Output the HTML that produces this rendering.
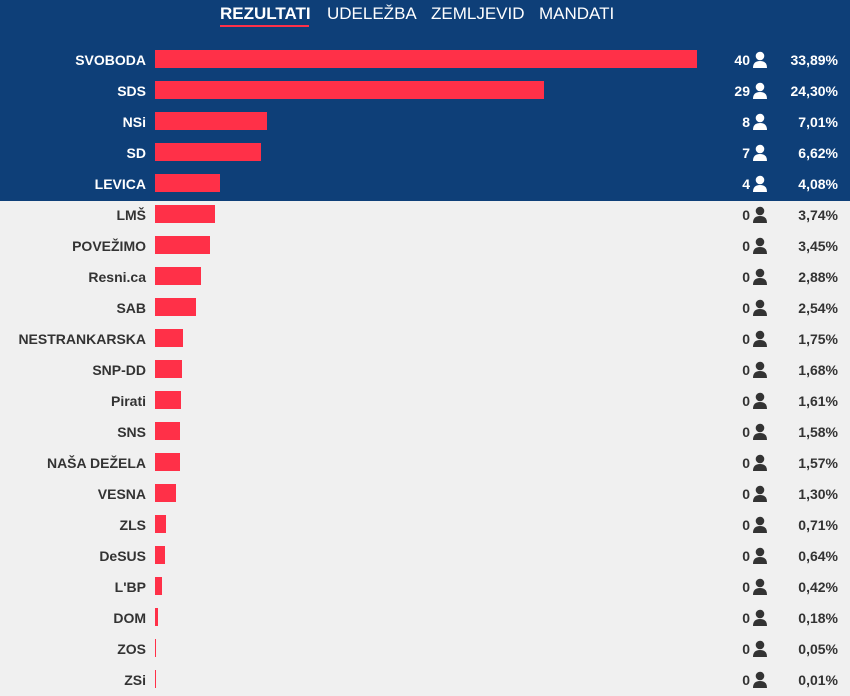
<!DOCTYPE html><html><head><meta charset="utf-8"><style>
body{margin:0;width:850px;height:694px;background:#f0f0f0;font-family:"Liberation Sans",sans-serif;overflow:hidden;position:relative}
.top{position:absolute;left:0;top:0;width:850px;height:201px;background:#0e3f78}
.tab{position:absolute;top:4px;color:#fff;font-size:17px}
.r{position:absolute;left:0;width:850px;height:31px;font-weight:bold;font-size:14px;color:#333}
.r.d{color:#fff}
.l{position:absolute;right:704px;top:7px;white-space:nowrap}
.b{position:absolute;left:155px;top:5px;height:18px;background:#ff3048}
.s{position:absolute;right:100px;top:7px}
.i{position:absolute;left:752px;top:6px;width:16px;height:18px}
.p{position:absolute;right:12px;top:7px}
</style></head><body>
<div class="top"></div>
<div class="tab" style="left:220px;font-weight:bold">REZULTATI</div>
<div style="position:absolute;left:220px;top:25px;width:89px;height:2px;background:#ff3048"></div>
<div class="tab" style="left:327px">UDELEŽBA</div>
<div class="tab" style="left:431px">ZEMLJEVID</div>
<div class="tab" style="left:539px">MANDATI</div>
<div id="rows"></div>
<script>
var d=[["SVOBODA",40,"33,89"],["SDS",29,"24,30"],["NSi",8,"7,01"],["SD",7,"6,62"],["LEVICA",4,"4,08"],["LMŠ",0,"3,74"],["POVEŽIMO",0,"3,45"],["Resni.ca",0,"2,88"],["SAB",0,"2,54"],["NESTRANKARSKA",0,"1,75"],["SNP-DD",0,"1,68"],["Pirati",0,"1,61"],["SNS",0,"1,58"],["NAŠA DEŽELA",0,"1,57"],["VESNA",0,"1,30"],["ZLS",0,"0,71"],["DeSUS",0,"0,64"],["L'BP",0,"0,42"],["DOM",0,"0,18"],["ZOS",0,"0,05"],["ZSi",0,"0,01"]];
var h="";
d.forEach(function(x,i){var v=parseFloat(x[2].replace(",","."));var w=Math.max(1,v*16);var dk=i<5;var c=dk?"#fff":"#333";
h+='<div class="r'+(dk?' d':'')+'" style="top:'+(45+i*31)+'px"><span class="l">'+x[0]+'</span><div class="b" style="width:'+w+'px"></div><span class="s">'+x[1]+'</span><svg class="i" viewBox="0 0 16 18"><circle cx="8" cy="5" r="4.3" fill="'+c+'"/><path d="M1 17 Q1 10 8 10 Q15 10 15 17Z" fill="'+c+'"/></svg><span class="p">'+x[2]+'%</span></div>';});
document.getElementById("rows").innerHTML=h;
</script>
</body></html>
